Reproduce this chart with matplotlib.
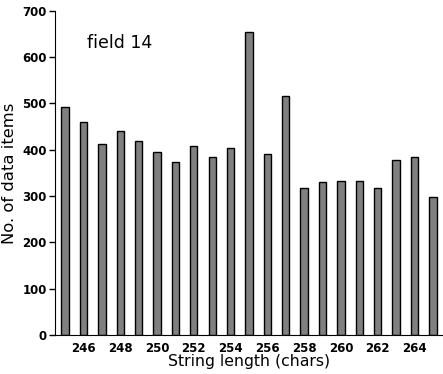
import matplotlib
matplotlib.use('Agg')
import matplotlib.pyplot as plt

lengths = list(range(245, 266))
counts = [492, 459, 412, 440, 420, 395, 373, 408, 384, 403, 654,
          390, 516, 317, 330, 332, 332, 317, 377, 384, 298]
xticks = [246, 248, 250, 252, 254, 256, 258, 260, 262, 264]
yticks = [0, 100, 200, 300, 400, 500, 600, 700]

fig = plt.figure(figsize=(4.43, 3.74), dpi=100)
ax = fig.add_axes([0.124, 0.104, 0.876, 0.867])
ax.bar(lengths, counts, width=0.4, color='#808080', edgecolor='black', linewidth=1)

ax.set_xlim(244.45, 265.55)
ax.set_ylim(0, 700)
ax.set_xticks(xticks)
ax.set_yticks(yticks)
ax.tick_params(axis='x', length=0, pad=5)
ax.tick_params(axis='y', length=4, width=1, pad=2)
for lbl in ax.get_xticklabels() + ax.get_yticklabels():
    lbl.set_fontweight('bold')
    lbl.set_fontsize(8.5)
for s in ['top', 'right']:
    ax.spines[s].set_visible(False)

ax.set_xlabel('String length (chars)', fontsize=11.3, labelpad=-1)
ax.set_ylabel('No. of data items', fontsize=11.8, labelpad=4)
ax.text(0.082, 0.886, 'field 14', transform=ax.transAxes, fontsize=12.5,
        va='baseline')

fig.savefig('out.png', dpi=100)
